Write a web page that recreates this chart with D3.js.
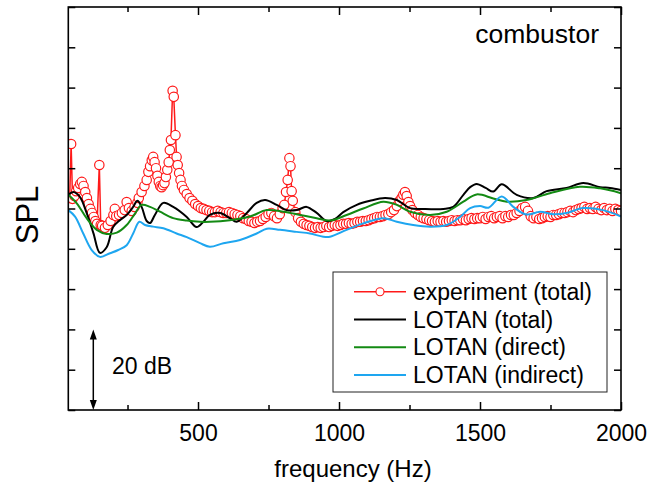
<!DOCTYPE html>
<html lang="en">
<head>
<meta charset="UTF-8">
<title>combustor SPL</title>
<script src="https://cdn.jsdelivr.net/npm/d3@7"></script>
<style>
    body { margin: 0; background: #fff; }
    text { font-family: "Liberation Sans", Arial, sans-serif; fill: #000; }
    .tick line { stroke: #000; stroke-width: 1.5; }
</style>
</head>
<body>
<svg width="652" height="491"></svg>
<script>
// experiment (total): frequency in Hz, relative SPL in dB
const expFreq = [45,50,55,62,68,75,82,88,94,100,106,112,118,124,130,136,142,150,155,160,170,180,190,200,205,210,220,230,240,247,255,265,275,285,290,300,310,318,324,330,336,341,346,351,356,361,366,371,376,381,386,391,396,400,404,410,414,420,424,428,433,438,443,450,460,470,480,490,500,510,520,530,540,550,560,570,580,590,600,610,620,630,640,650,660,670,680,690,700,710,720,730,740,750,760,770,780,790,800,806,812,818,824,828,832,836,845,855,865,875,885,895,905,915,925,935,945,955,965,975,985,995,1005,1015,1025,1035,1045,1055,1065,1075,1085,1095,1105,1115,1125,1135,1145,1155,1165,1175,1185,1195,1205,1215,1222,1228,1234,1240,1246,1252,1260,1270,1280,1290,1300,1310,1320,1330,1340,1350,1360,1370,1380,1390,1400,1410,1420,1430,1440,1450,1460,1470,1480,1490,1500,1510,1520,1530,1540,1550,1560,1570,1580,1590,1600,1610,1620,1630,1640,1650,1660,1670,1680,1690,1700,1710,1720,1730,1740,1750,1760,1770,1780,1790,1800,1810,1820,1830,1840,1850,1860,1870,1880,1890,1900,1910,1920,1930,1940,1950,1960,1970,1980,1990,2000];
const expSpl = [52.6,66.0,52.4,53.1,54.3,55.1,56.1,56.6,55.6,54.1,52.6,51.1,49.9,48.9,47.9,46.9,46.2,60.8,45.9,45.7,45.2,45.9,46.9,48.4,49.9,48.1,48.4,48.9,49.6,51.6,50.1,49.4,50.4,51.4,52.6,54.1,55.6,57.1,59.1,60.5,62.0,62.8,61.5,60.0,58.1,56.6,55.6,55.3,55.8,56.3,57.8,59.6,61.5,64.5,67.0,79.2,77.7,68.2,62.8,60.8,58.8,57.1,55.6,54.6,53.6,52.6,51.9,51.1,50.6,50.1,49.9,49.6,49.4,49.1,49.1,49.4,49.1,48.9,48.9,49.1,48.9,48.6,48.4,48.1,47.6,47.4,46.9,46.7,46.4,46.7,46.9,47.4,47.9,48.6,48.9,48.1,47.6,48.6,50.1,50.9,54.1,57.1,62.5,60.5,54.3,51.9,49.1,47.6,46.7,46.2,45.9,45.7,45.4,45.2,45.4,45.2,45.4,45.7,45.4,45.7,45.9,45.7,45.9,46.2,46.2,46.4,46.2,46.4,46.7,46.7,46.9,46.9,47.1,47.4,47.6,47.9,47.9,48.1,48.4,48.6,49.1,49.6,50.6,51.9,52.6,53.4,54.1,53.1,51.6,50.6,49.6,48.9,48.4,47.9,47.6,47.4,47.1,46.9,46.7,46.9,46.7,46.9,46.7,46.9,47.1,46.9,47.1,47.1,47.4,47.1,47.4,47.6,47.4,47.6,47.6,47.9,47.4,47.9,48.1,47.6,47.9,48.1,47.6,48.1,47.9,48.4,48.4,48.9,49.4,50.1,50.4,49.4,48.1,47.6,47.9,47.4,47.6,47.9,48.1,47.9,48.4,48.4,48.6,48.9,48.9,49.1,49.4,49.1,49.6,49.9,50.1,50.4,49.9,50.1,49.9,50.4,49.9,49.6,50.1,49.6,49.9,49.4,49.9,49.6,49.4];

// LOTAN (total)
const totalFreq = [40,58,81,105,129,152,176,199,223,247,270,285,300,318,330,347,377,412,460,495,519,542,578,613,637,673,708,738,779,814,850,885,921,956,986,1015,1063,1110,1163,1205,1252,1299,1370,1405,1441,1465,1488,1520,1547,1577,1630,1689,1736,1807,1866,1926,1961,2000];
const totalSpl = [53.4,54.1,52.9,48.9,43.9,39.0,40.4,45.4,47.1,48.4,50.4,51.9,50.4,46.9,46.4,48.4,51.4,50.4,47.9,45.4,46.7,48.4,48.9,47.6,46.7,48.9,51.4,52.1,50.9,49.6,49.6,50.4,48.9,46.9,47.4,49.1,50.9,51.9,52.6,52.1,50.1,49.9,49.9,50.4,53.4,55.3,56.1,55.1,54.2,56.0,53.4,52.6,54.3,55.1,56.3,55.3,55.1,54.6];

// LOTAN (direct)
const directFreq = [40,70,105,141,176,212,247,277,300,330,365,412,460,507,542,613,684,744,803,862,921,968,1027,1086,1157,1205,1252,1323,1382,1441,1488,1547,1595,1665,1748,1854,1926,2000];
const directSpl = [53.4,51.3,47.6,44.7,43.7,44.0,45.9,48.8,50.9,50.4,49.2,47.6,47.0,46.7,46.7,47.1,48.0,49.6,49.2,48.4,47.6,47.0,48.4,50.0,51.7,50.9,49.2,48.4,49.2,51.7,53.5,52.5,51.7,52.1,53.8,55.4,55.0,53.8];

// LOTAN (indirect)
const indirectFreq = [40,64,93,123,152,188,217,247,270,292,312,341,377,424,460,507,542,590,649,708,744,791,850,897,944,968,1027,1086,1157,1205,1263,1323,1382,1429,1465,1500,1530,1577,1618,1665,1713,1760,1807,1866,1936,2000];
const indirectSpl = [49.6,48.0,43.8,39.7,38.0,38.9,39.7,40.9,43.8,46.7,45.9,45.5,45.1,43.8,42.9,41.4,40.5,41.4,42.2,43.8,45.0,44.7,44.2,43.8,43.0,43.0,44.7,46.3,47.6,46.7,45.9,45.5,45.9,47.9,50.1,50.6,50.2,53.0,50.4,48.5,49.2,48.6,48.9,50.1,49.6,48.0];

const xMajorTicks = [500, 1000, 1500, 2000];
const xMinorTicks = [250, 750, 1250, 1750];
const yTicks = [0, 10, 20, 30, 40, 50, 60, 70, 80, 90, 100];

const seriesNames = ["experiment (total)", "LOTAN (total)", "LOTAN (direct)", "LOTAN (indirect)"];
const seriesColors = ["#ff1a1a", "#000000", "#138a13", "#1ea6f0"];

const svg = d3.select("svg");
const mLeft = 68.3, mRight = 621, mTop = 7, mBottom = 410;

const x = d3.scaleLinear().domain([40, 2000]).range([mLeft, mRight]);
const y = d3.scaleLinear().domain([0, 100]).range([mBottom, mTop]);

svg.append("clipPath").attr("id", "plotclip")
    .append("rect").attr("x", mLeft).attr("y", mTop)
    .attr("width", mRight - mLeft).attr("height", mBottom - mTop);

const plot = svg.append("g").attr("clip-path", "url(#plotclip)");

// experiment: line + open circles
const expData = expFreq.map((f, i) => [f, expSpl[i]]);
plot.append("path")
    .datum(expData)
    .attr("d", d3.line().x(d => x(d[0])).y(d => y(d[1])))
    .attr("fill", "none").attr("stroke", seriesColors[0]).attr("stroke-width", 1.5);
plot.selectAll("circle.exp")
    .data(expData)
    .join("circle").attr("class", "exp")
    .attr("cx", d => x(d[0]))
    .attr("cy", d => y(d[1]))
    .attr("r", 4.7)
    .attr("fill", "#fff")
    .attr("stroke", seriesColors[0]).attr("stroke-width", 1.2);

// LOTAN curves
const smooth = d3.line().x(d => x(d[0])).y(d => y(d[1])).curve(d3.curveCatmullRom.alpha(0.5));
[[totalFreq, totalSpl], [directFreq, directSpl], [indirectFreq, indirectSpl]].forEach(([fs, vs], k) => {
    plot.append("path")
        .datum(fs.map((f, i) => [f, vs[i]]))
        .attr("d", smooth)
        .attr("fill", "none")
        .attr("stroke", seriesColors[k + 1])
        .attr("stroke-width", 2);
});

// axes, ticks pointing inward
function styleAxis(g) {
    g.select(".domain").remove();
    g.selectAll("text").attr("font-size", 23).attr("font-family", "Liberation Sans, Arial, sans-serif");
}
svg.append("g").attr("transform", `translate(0,${mBottom})`)
    .call(d3.axisBottom(x).tickValues(xMajorTicks).tickSize(-8).tickPadding(15).tickFormat(d3.format("d"))).call(styleAxis);
svg.append("g").attr("transform", `translate(0,${mBottom})`)
    .call(d3.axisBottom(x).tickValues(xMinorTicks).tickSize(-5).tickFormat("")).call(styleAxis);
svg.append("g").attr("transform", `translate(0,${mTop})`)
    .call(d3.axisTop(x).tickValues(xMajorTicks).tickSize(-8).tickFormat("")).call(styleAxis);
svg.append("g").attr("transform", `translate(0,${mTop})`)
    .call(d3.axisTop(x).tickValues(xMinorTicks).tickSize(-5).tickFormat("")).call(styleAxis);
svg.append("g").attr("transform", `translate(${mLeft},0)`)
    .call(d3.axisLeft(y).tickValues(yTicks).tickSize(-7).tickFormat("")).call(styleAxis);
svg.append("g").attr("transform", `translate(${mRight},0)`)
    .call(d3.axisRight(y).tickValues(yTicks).tickSize(-7).tickFormat("")).call(styleAxis);

svg.append("rect")
    .attr("x", mLeft).attr("y", mTop)
    .attr("width", mRight - mLeft).attr("height", mBottom - mTop)
    .attr("fill", "none").attr("stroke", "#000").attr("stroke-width", 1.6);

// titles
svg.append("text").attr("x", 353).attr("y", 477)
    .attr("text-anchor", "middle").attr("font-size", 24).text("frequency (Hz)");
svg.append("text").attr("transform", "translate(38,215) rotate(-90)")
    .attr("text-anchor", "middle").attr("font-size", 31).text("SPL");
svg.append("text").attr("x", 599).attr("y", 43)
    .attr("text-anchor", "end").attr("font-size", 26.5).text("combustor");

// 20 dB scale arrow
const ax = 93.3;
svg.append("line").attr("x1", ax).attr("x2", ax)
    .attr("y1", y(20) + 8).attr("y2", y(0) - 8)
    .attr("stroke", "#000").attr("stroke-width", 1.5);
svg.append("path")
    .attr("d", `M${ax},${y(20)} l-3.5,10 l7,0 Z M${ax},${y(0)} l-3.5,-10 l7,0 Z`)
    .attr("fill", "#000");
svg.append("text").attr("x", 112).attr("y", 374)
    .attr("font-size", 23).text("20 dB");

// legend
const legend = svg.append("g");
legend.append("rect")
    .attr("x", 333).attr("y", 272).attr("width", 274).attr("height", 120)
    .attr("fill", "#fff").attr("stroke", "#222").attr("stroke-width", 1);
seriesNames.forEach((name, i) => {
    const cy = 291.7 + i * 27.8;
    legend.append("line")
        .attr("x1", 354).attr("x2", 406).attr("y1", cy).attr("y2", cy)
        .attr("stroke", seriesColors[i]).attr("stroke-width", i === 0 ? 1.5 : 2);
    if (i === 0) {
        legend.append("circle").attr("cx", 380).attr("cy", cy).attr("r", 4)
            .attr("fill", "#fff").attr("stroke", seriesColors[0]).attr("stroke-width", 1.1);
    }
    legend.append("text").attr("x", 413).attr("y", cy + 8)
        .attr("font-size", 23).text(name);
});
</script>
</body>
</html>
